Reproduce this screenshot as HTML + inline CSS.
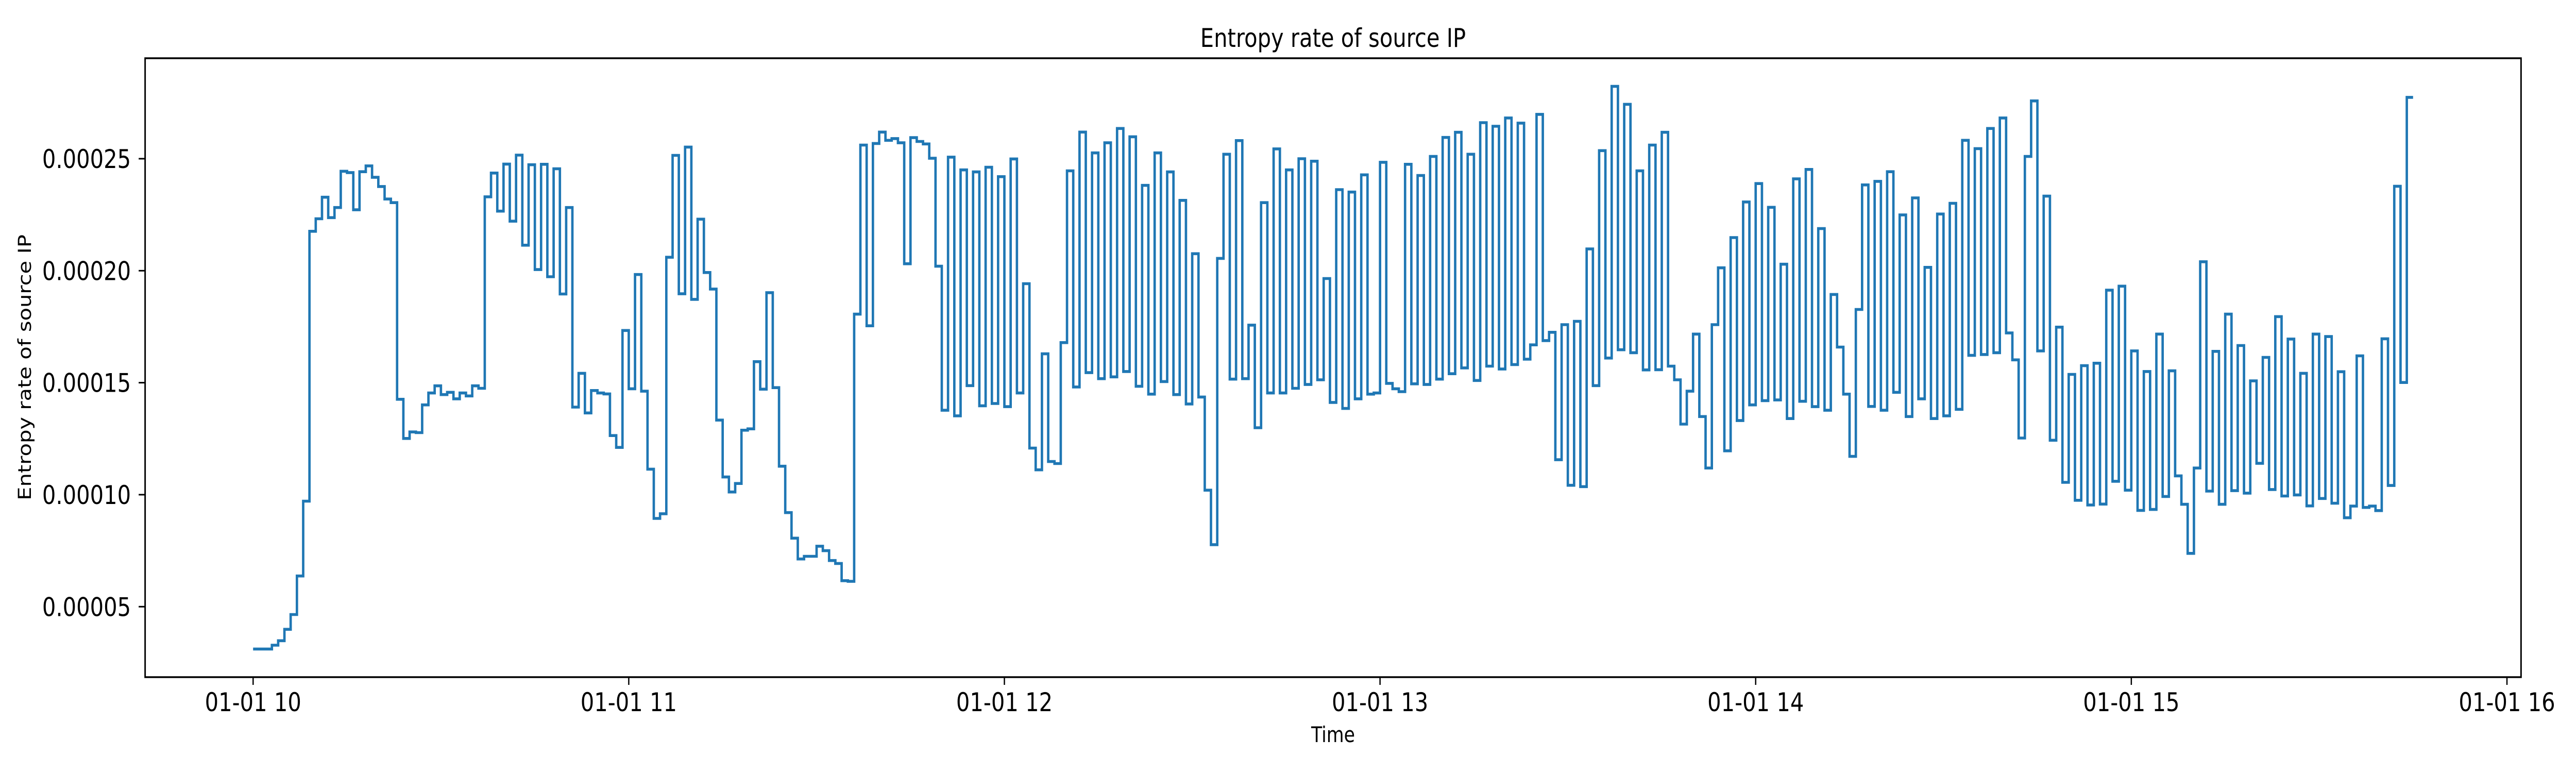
<!DOCTYPE html>
<html><head><meta charset="utf-8"><style>
html,body{margin:0;padding:0;background:#fff;overflow:hidden;width:100vw;height:100vh;}
svg{display:block;width:100vw;height:100vh;font-family:"DejaVu Sans","Liberation Sans",sans-serif;}
</style></head><body>
<svg id="chart" viewBox="0 0 6000 1500" preserveAspectRatio="none" xmlns="http://www.w3.org/2000/svg">
<rect x="0" y="0" width="6000" height="1500" fill="#fff"/>
<text x="3105" y="91" font-size="50" text-anchor="middle">Entropy rate of source IP</text>
<text x="3105" y="1440" font-size="41.7" text-anchor="middle">Time</text>
<text x="0" y="0" font-size="41.7" text-anchor="middle" transform="translate(72,713) rotate(-90)">Entropy rate of source IP</text>
<g id="ticks"></g>
<path id="series" fill="none" stroke="#1f77b4" stroke-width="5.6" stroke-linejoin="miter"/>
<rect x="338" y="113" width="5534" height="1201" fill="none" stroke="#000" stroke-width="3.5"/>
</svg>
<script>
// values in units of 1e-5, one per minute starting 01-01 10:00
const startMinute = 0;
const seriesValues = [
3.11,3.11,3.11,3.28,3.48,3.99,4.65,6.37,9.71,
21.76,22.32,23.28,22.37,22.82,24.44,24.38,22.72,24.42,24.68,24.17,23.76,23.20,23.04,
14.26,12.51,12.80,12.77,14.01,14.54,14.86,14.47,14.57,14.28,14.54,14.41,14.86,14.75,
23.30,24.36,22.66,24.76,22.21,25.16,21.14,24.73,20.05,24.75,19.73,24.55,18.96,22.82,
13.91,15.42,13.65,14.65,14.54,14.50,12.64,12.11,17.33,14.73,19.83,14.62,11.14,8.94,9.15,
20.60,25.15,18.97,25.52,18.72,22.30,19.92,19.18,13.33,10.79,
10.12,10.50,12.88,12.94,15.94,14.71,19.02,14.78,11.27,9.20,
8.06,7.13,7.25,7.25,7.70,7.50,7.06,6.93,6.16,6.13,
18.06,25.61,17.54,25.68,26.19,25.82,25.90,25.71,20.31,25.94,
25.77,25.66,25.02,20.20,13.77,25.07,13.52,24.50,14.87,24.41,
13.97,24.62,14.07,24.20,13.93,24.99,14.54,19.42,12.08,11.11,
16.29,11.48,11.39,16.79,24.46,
14.81,26.19,15.45,25.26,15.18,25.71,15.26,26.35,15.50,25.98,
14.84,23.81,14.49,25.26,15.05,24.41,14.47,23.14,14.05,20.76,
14.36,10.20,7.77,20.55,25.20,15.16,25.81,15.18,17.57,12.99,
23.04,14.54,25.44,14.54,24.50,14.75,25.00,14.92,24.89,15.13,
19.65,14.12,23.62,13.85,23.51,14.28,24.28,14.49,14.54,24.84,
14.97,14.73,14.60,24.75,14.95,24.25,14.92,25.10,15.16,25.95,
15.40,26.18,15.66,25.20,15.10,26.61,15.74,26.45,
15.61,26.82,15.81,26.59,16.05,16.69,26.98,16.88,17.25,11.56,
17.59,10.42,17.74,10.36,20.97,14.87,25.36,16.10,28.23,16.47,
27.43,16.34,24.46,15.57,25.61,15.58,26.18,15.74,15.13,13.15,
14.62,17.17,13.49,11.19,17.59,20.13,11.96,21.48,13.31,23.07,
14.01,23.89,14.20,22.83,14.23,20.29,13.40,24.10,14.17,24.52,
13.93,21.88,13.77,18.94,16.59,14.49,11.71,18.27,23.83,13.94,
23.99,13.77,24.42,14.57,22.49,13.49,23.25,14.28,
20.15,13.40,22.53,13.52,23.01,13.81,25.82,16.22,25.45,16.26,
26.35,16.34,26.82,17.22,16.02,12.53,25.10,27.58,16.42,23.33,
12.43,17.48,10.55,15.37,9.75,15.76,9.54,15.87,9.58,19.13,
10.60,19.31,10.20,16.42,9.30,15.50,9.34,17.17,9.92,15.53,
10.84,9.57,7.38,11.19,20.40,10.16,16.40,9.57,18.06,10.18,
16.66,10.07,15.08,11.40,16.13,10.23,17.95,9.94,16.95,9.99,
15.42,9.50,17.17,9.83,17.06,9.62,15.49,8.97,
9.49,16.20,9.43,9.49,9.29,16.96,10.41,23.77,15.01,27.74
];
const xTickMinutes = [0,60,120,180,240,300,360];
const xTickLabels = ["01-01 10","01-01 11","01-01 12","01-01 13","01-01 14","01-01 15","01-01 16"];
const yTickValues = [5,10,15,20,25];
const yTickLabels = ["0.00005","0.00010","0.00015","0.00020","0.00025"];

const L=338,R=5872,T=113,B=1314;
const n=seriesValues.length;
const xMin=startMinute-0.05*n, xMax=startMinute+n+0.05*n;
let vMin=Math.min(...seriesValues), vMax=Math.max(...seriesValues);
const pad=(vMax-vMin)*0.05;
const yMin=vMin-pad, yMax=vMax+pad;
function xs(m){return L+(m-xMin)/(xMax-xMin)*(R-L);}
function ys(v){return B-(v-yMin)/(yMax-yMin)*(B-T);}

let d="";
seriesValues.forEach((v,i)=>{
  const x0=xs(startMinute+i), x1=xs(startMinute+i+1), y=ys(v);
  d += (i===0?"M":"L")+x0.toFixed(1)+","+y.toFixed(1)+"L"+x1.toFixed(1)+","+y.toFixed(1);
});
document.getElementById('series').setAttribute('d',d);

const NS="http://www.w3.org/2000/svg";
const g=document.getElementById('ticks');
xTickMinutes.forEach((m,i)=>{
  const x=xs(m);
  const t=document.createElementNS(NS,'line');
  
  
  t.setAttribute('x1',x);t.setAttribute('x2',x);t.setAttribute('y1',B);t.setAttribute('y2',B+15);
  t.setAttribute('stroke','#000');t.setAttribute('stroke-width','3');
  g.appendChild(t);
  const tx=document.createElementNS(NS,'text');
  
  
  tx.setAttribute('x',x);tx.setAttribute('y',1380);
  tx.setAttribute('font-size','50');tx.setAttribute('text-anchor','middle');
  tx.textContent=xTickLabels[i];
  g.appendChild(tx);
});
yTickValues.forEach((v,i)=>{
  const y=ys(v);
  const t=document.createElementNS(NS,'line');
  
  
  t.setAttribute('x1',L-15);t.setAttribute('x2',L);t.setAttribute('y1',y);t.setAttribute('y2',y);
  t.setAttribute('stroke','#000');t.setAttribute('stroke-width','3');
  g.appendChild(t);
  const tx=document.createElementNS(NS,'text');
  
  
  tx.setAttribute('x',305);tx.setAttribute('y',y+18);
  tx.setAttribute('font-size','50');tx.setAttribute('text-anchor','end');
  tx.textContent=yTickLabels[i];
  g.appendChild(tx);
});
</script>
</body></html>
